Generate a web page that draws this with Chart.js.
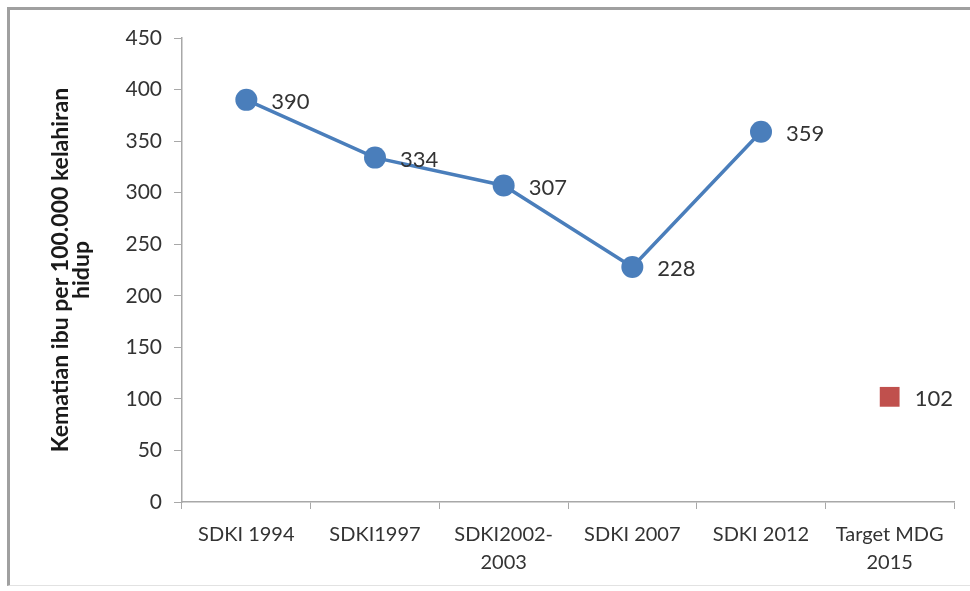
<!DOCTYPE html>
<html>
<head>
<meta charset="utf-8">
<script src="https://cdn.jsdelivr.net/npm/chart.js@4/dist/chart.umd.min.js"></script>
<style>
  html,body{margin:0;padding:0;background:#fff;}
  body{width:970px;height:591px;position:relative;overflow:hidden;}
  .frame{position:absolute;left:7px;top:7px;right:-4px;bottom:5px;border-left:3px solid #a0a0a0;border-top:3px solid #a0a0a0;border-bottom:1px solid #e2e2e2;}
  #wrap{position:absolute;left:0;top:0;width:970px;height:591px;}
</style>
</head>
<body>
<div class="frame"></div>
<div id="wrap"><canvas id="c" width="970" height="591"></canvas></div>
<script>
// survey rounds on the x axis
const categories = [['SDKI 1994'], ['SDKI1997'], ['SDKI2002-', '2003'], ['SDKI 2007'], ['SDKI 2012'], ['Target MDG', '2015']];
// maternal deaths per 100,000 live births
const surveyValues = [390, 334, 307, 228, 359, null];
const targetValues = [null, null, null, null, null, 102];
const yTitle = ['Kematian ibu per 100.000 kelahiran', 'hidup'];

const blue = '#4a7ebb', red = '#c0504d', ink = '#333333', axisCol = '#a8a8a8';
const fontFam = "Lato, 'Open Sans', sans-serif";

// value labels to the right of each marker
const valueLabels = {
  id: 'valueLabels',
  afterDatasetsDraw(chart){
    const ctx = chart.ctx;
    ctx.save();
    ctx.font = '22px ' + fontFam;
    ctx.fillStyle = ink;
    ctx.textBaseline = 'middle';
    chart.data.datasets.forEach((ds, i) => {
      chart.getDatasetMeta(i).data.forEach((pt, j) => {
        const v = ds.data[j];
        if (v == null) return;
        ctx.fillText(String(v), pt.x + 25, pt.y + 2);
      });
    });
    ctx.restore();
  }
};

new Chart(document.getElementById('c'), {
  type: 'line',
  data: {
    labels: categories,
    datasets: [
      { data: surveyValues, borderColor: blue, backgroundColor: blue, borderWidth: 3.5,
        pointRadius: 11, pointHoverRadius: 11, pointBackgroundColor: blue, pointBorderWidth: 0, tension: 0 },
      { data: targetValues, borderColor: red, backgroundColor: red, showLine: false,
        pointStyle: 'rect', pointRadius: 14, pointHoverRadius: 14, pointBorderWidth: 0 }
    ]
  },
  options: {
    responsive: false, animation: false, devicePixelRatio: 1,
    layout: { padding: { left: 50, top: 38, right: 16, bottom: 0 } },
    plugins: { legend: { display: false }, tooltip: { enabled: false } },
    scales: {
      x: {
        offset: true,
        grid: { offset: true, drawOnChartArea: false, tickLength: 7, color: axisCol },
        border: { color: axisCol, width: 1.5 },
        ticks: { color: ink, font: { family: fontFam, size: 20, lineHeight: 1.4 }, padding: 12, maxRotation: 0, autoSkip: false },
        afterFit: s => { s.height = 89; }
      },
      y: {
        min: 0, max: 450,
        ticks: { stepSize: 50, color: ink, font: { family: fontFam, size: 21 }, padding: 12 },
        grid: { drawOnChartArea: false, tickLength: 8, color: axisCol },
        border: { color: axisCol, width: 1.5 },
        title: { display: true, text: yTitle, color: '#1a1a1a', font: { family: fontFam, size: 23, weight: 'bold', lineHeight: 0.92 }, padding: 0 },
        afterFit: s => { s.width = 132; }
      }
    }
  },
  plugins: [valueLabels]
});
</script>
</body>
</html>
